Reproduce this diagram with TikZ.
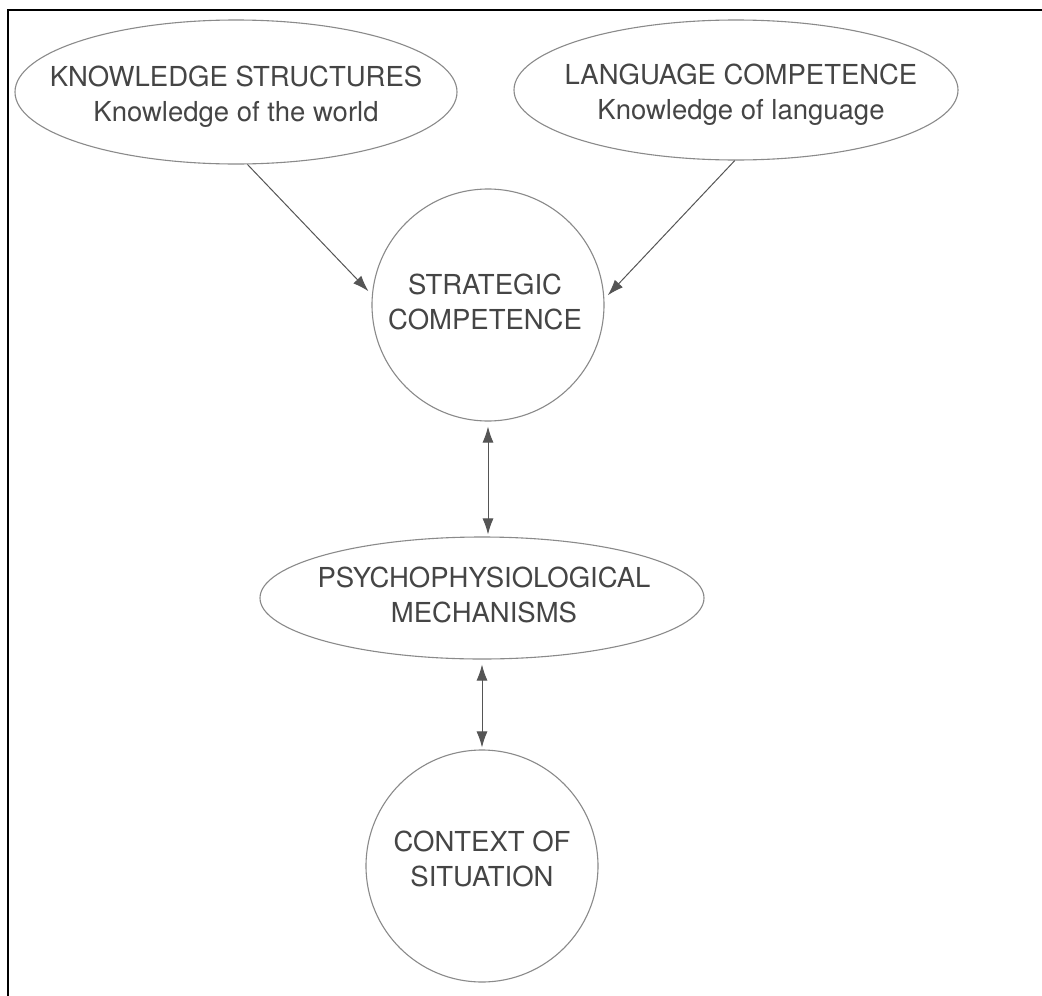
\documentclass[tikz,border=0pt]{standalone}
\usepackage{fontspec}
\setmainfont{TeX Gyre Heros}
\usetikzlibrary{shapes.geometric,arrows.meta}
\definecolor{inkgray}{HTML}{454545}
\definecolor{linegray}{HTML}{8A8A8A}
\definecolor{arrowgray}{HTML}{555555}
\begin{document}
\begin{tikzpicture}[x=1pt,y=-1pt,
  txt/.style={text=inkgray,align=center,font=\fontsize{27.5}{35}\selectfont,inner sep=0pt},
  oval/.style={draw=linegray,line width=1.1pt,ellipse,inner sep=0pt},
  ring/.style={draw=linegray,line width=1.1pt,circle,inner sep=0pt},
  tip/.style={Latex[length=16pt,width=11pt]},
  link/.style={draw=arrowgray,line width=1pt,-{Latex[length=16pt,width=11pt]}},
  twoway/.style={draw=arrowgray,line width=1pt,{Latex[length=16pt,width=11pt]}-{Latex[length=16pt,width=11pt]}}]
\useasboundingbox (0,0) rectangle (1042,996);
\fill[white] (0,0) rectangle (1042,996);
% page frame (left and top edges)
\draw[line width=2pt,black] (8,996) -- (8,10) -- (1042,10);

\node[oval,minimum width=442pt,minimum height=144pt] (ks) at (236,92) {};
\node[txt] (kst) at (236,97) {KNOWLEDGE STRUCTURES\\Knowledge of the world};
\node[oval,minimum width=444pt,minimum height=140pt] (lc) at (736,90) {};
\node[txt] (lct) at (741,95) {LANGUAGE COMPETENCE\\Knowledge of language};
\node[ring,minimum size=232pt] (sc) at (488,305) {};
\node[txt] (sct) at (485,302) {STRATEGIC\\COMPETENCE};
\node[oval,minimum width=444pt,minimum height=122pt] (pm) at (482,598) {};
\node[txt] (pmt) at (484,595) {PSYCHOPHYSIOLOGICAL\\MECHANISMS};
\node[ring,minimum size=232pt] (cs) at (482,866) {};
\node[txt] (cst) at (482,859) {CONTEXT OF\\SITUATION};

\draw[link,shorten >=5pt] (ks.-81) -- (sc.175);
\draw[link,shorten >=5pt] (lc.-91) -- (sc.3);
\draw[twoway,shorten <=5pt,shorten >=2pt] (sc.south) -- (sc.south |- pm.north);
\draw[twoway,shorten <=5pt,shorten >=2pt] (pm.south) -- (pm.south |- cs.north);
\end{tikzpicture}
\end{document}
